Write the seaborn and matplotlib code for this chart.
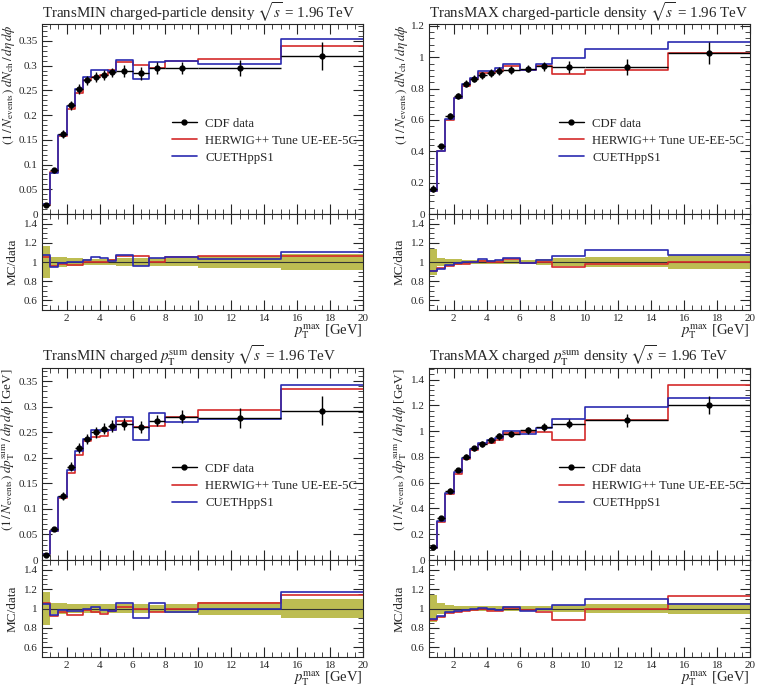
import numpy as np
import pandas as pd
import seaborn as sns
import matplotlib.pyplot as plt
from matplotlib.lines import Line2D
from matplotlib.ticker import MultipleLocator, AutoMinorLocator

# Bin edges in pT^max [GeV]
edges = [0.5, 1.0, 1.5, 2.0, 2.5, 3.0, 3.5, 4.0, 4.5, 5.0, 6.0, 7.0, 8.0, 10.0, 15.0, 20.0]

# TransMIN charged-particle density
min_nch_data = [0.018, 0.088, 0.1615, 0.220, 0.2535, 0.270, 0.277, 0.281, 0.286, 0.289, 0.284, 0.295, 0.295, 0.295, 0.320]
min_nch_err = [0.003, 0.0047, 0.0085, 0.009, 0.010, 0.0095, 0.0097, 0.0098, 0.010, 0.012, 0.013, 0.013, 0.013, 0.017, 0.028]
min_nch_herwig = [0.019, 0.084, 0.158, 0.212, 0.245, 0.270, 0.276, 0.280, 0.291, 0.308, 0.302, 0.295, 0.310, 0.314, 0.339]
min_nch_cueth = [0.0193, 0.083, 0.160, 0.219, 0.253, 0.277, 0.291, 0.292, 0.289, 0.311, 0.273, 0.307, 0.310, 0.303, 0.353]

# TransMAX charged-particle density
max_nch_data = [0.162, 0.432, 0.627, 0.754, 0.832, 0.863, 0.884, 0.899, 0.912, 0.918, 0.926, 0.941, 0.939, 0.937, 1.027]
max_nch_err = [0.022, 0.017, 0.019, 0.020, 0.021, 0.022, 0.022, 0.023, 0.023, 0.023, 0.023, 0.028, 0.038, 0.050, 0.073]
max_nch_herwig = [0.147, 0.404, 0.602, 0.739, 0.815, 0.863, 0.897, 0.899, 0.912, 0.946, 0.921, 0.941, 0.892, 0.918, 1.027]
max_nch_cueth = [0.146, 0.402, 0.608, 0.743, 0.828, 0.867, 0.911, 0.912, 0.930, 0.955, 0.921, 0.960, 0.995, 1.050, 1.100]

# TransMIN charged pTsum density
min_pt_data = [0.0105, 0.0613, 0.125, 0.1825, 0.219, 0.237, 0.2497, 0.2575, 0.263, 0.2666, 0.261, 0.273, 0.281, 0.2777, 0.2927]
min_pt_err = [0.0018, 0.0037, 0.0075, 0.009, 0.010, 0.0107, 0.011, 0.0115, 0.012, 0.012, 0.012, 0.011, 0.012, 0.019, 0.029]
min_pt_herwig = [0.0111, 0.0567, 0.1206, 0.1706, 0.2048, 0.2334, 0.241, 0.2433, 0.2551, 0.272, 0.261, 0.262, 0.281, 0.293, 0.334]
min_pt_cueth = [0.011, 0.057, 0.1225, 0.177, 0.2125, 0.237, 0.2547, 0.2524, 0.2551, 0.281, 0.235, 0.288, 0.271, 0.276, 0.3425]

# TransMAX charged pTsum density
max_pt_data = [0.103, 0.328, 0.537, 0.698, 0.801, 0.866, 0.902, 0.933, 0.959, 0.979, 1.005, 1.031, 1.059, 1.083, 1.204]
max_pt_err = [0.014, 0.017, 0.019, 0.0175, 0.020, 0.022, 0.023, 0.023, 0.024, 0.025, 0.025, 0.031, 0.037, 0.049, 0.072]
max_pt_herwig = [0.091, 0.298, 0.513, 0.670, 0.781, 0.853, 0.897, 0.905, 0.930, 0.984, 0.990, 0.990, 0.932, 1.083, 1.355]
max_pt_cueth = [0.092, 0.302, 0.518, 0.681, 0.789, 0.862, 0.907, 0.933, 0.949, 0.999, 0.975, 1.026, 1.095, 1.190, 1.256]

RED = '#d42a2a'
BLUE = '#2a2ab0'
BAND = '#bdbd52'

sns.set_style('ticks')
plt.rcParams['font.family'] = ['Liberation Serif', 'DejaVu Serif']
plt.rcParams['mathtext.fontset'] = 'stix'
plt.rcParams['axes.linewidth'] = 0.8

W, H = 757, 687
fig = plt.figure(figsize=(W / 100, H / 100), dpi=100)


def px_axes(left, right, top, bottom):
    return fig.add_axes([left / W, (H - bottom) / H, (right - left) / W, (bottom - top) / H])


def steps(ax, vals, color):
    df = pd.DataFrame({'x': edges, 'y': list(vals) + [vals[-1]]})
    sns.lineplot(data=df, x='x', y='y', ax=ax, color=color, lw=1.2,
                 drawstyle='steps-post', estimator=None, sort=False)


def style_ticks(ax):
    ax.tick_params(which='both', direction='in', top=True, right=True, labelsize=8, pad=3)
    ax.tick_params(which='major', length=7, width=0.8)
    ax.tick_params(which='minor', length=3.5, width=0.6)
    ax.xaxis.set_major_locator(MultipleLocator(2))
    ax.xaxis.set_minor_locator(MultipleLocator(0.5))
    ax.set_xlim(0.5, 20)


def draw_panel(left, right, top, mid, bottom, data, err, herwig, cueth, title, ylabel, ymax, ystep):
    ax = px_axes(left, right, top, mid)
    rax = px_axes(left, right, mid, bottom)

    data = np.array(data)
    err = np.array(err)
    e = np.array(edges)
    centers = (e[:-1] + e[1:]) / 2
    halfw = (e[1:] - e[:-1]) / 2

    steps(ax, herwig, RED)
    steps(ax, cueth, BLUE)
    ax.errorbar(centers, data, yerr=err, xerr=halfw, fmt='o', color='black',
                ms=3.5, lw=1, capsize=0, zorder=5)

    style_ticks(ax)
    ax.set_ylim(0, ymax)
    ax.yaxis.set_major_locator(MultipleLocator(ystep))
    ax.yaxis.set_minor_locator(AutoMinorLocator(5))
    ax.set_xticklabels([])
    ax.set_xlabel('')
    ax.set_ylabel(ylabel, fontsize=9.5, loc='top', labelpad=1)
    ax.set_title(title, loc='left', fontsize=10.8, pad=0)
    ax.yaxis.set_major_formatter(plt.FuncFormatter(lambda v, p: f'{v:g}'))

    handles = [
        Line2D([], [], color='black', marker='o', ms=3.5, lw=1),
        Line2D([], [], color=RED, lw=1.2),
        Line2D([], [], color=BLUE, lw=1.2),
    ]
    ax.legend(handles, ['CDF data', 'HERWIG++ Tune UE-EE-5C', 'CUETHppS1'],
              loc='center left', bbox_to_anchor=(0.37, 0.385), frameon=False,
              fontsize=9.2, handlelength=1.9, handletextpad=0.7, labelspacing=0.4)

    # ratio panel
    rel = err / data
    rax.stairs(1 + rel, edges, baseline=1 - rel, fill=True, color=BAND, lw=0)
    rax.axhline(1, color='#333333', lw=0.8)
    steps(rax, np.array(herwig) / data, RED)
    steps(rax, np.array(cueth) / data, BLUE)
    style_ticks(rax)
    rax.set_ylim(0.5, 1.5)
    rax.set_yticks([0.6, 0.8, 1.0, 1.2, 1.4])
    rax.yaxis.set_minor_locator(MultipleLocator(0.05))
    rax.yaxis.set_major_formatter(plt.FuncFormatter(lambda v, p: f'{v:g}'))
    rax.set_ylabel('MC/data', fontsize=9.5)
    rax.set_xlabel(r'$p_\mathrm{T}^\mathrm{max}$ [GeV]', fontsize=10.5, loc='right', labelpad=-1)


nch_label = r'$\left(1\,/\,N_\mathrm{events}\right)\; dN_\mathrm{ch}\,/\,d\eta\,d\phi$'
pt_label = r'$\left(1\,/\,N_\mathrm{events}\right)\; dp_\mathrm{T}^\mathrm{sum}\,/\,d\eta\,d\phi$ [GeV]'

draw_panel(42, 363, 24, 214, 310, min_nch_data, min_nch_err, min_nch_herwig, min_nch_cueth,
           r'TransMIN charged-particle density $\sqrt{s}$ = 1.96 TeV', nch_label, 0.384, 0.05)
draw_panel(429, 750, 24, 214, 310, max_nch_data, max_nch_err, max_nch_herwig, max_nch_cueth,
           r'TransMAX charged-particle density $\sqrt{s}$ = 1.96 TeV', nch_label, 1.212, 0.2)
draw_panel(42, 363, 368, 560, 657, min_pt_data, min_pt_err, min_pt_herwig, min_pt_cueth,
           r'TransMIN charged $p_\mathrm{T}^\mathrm{sum}$ density $\sqrt{s}$ = 1.96 TeV', pt_label, 0.376, 0.05)
draw_panel(429, 750, 368, 560, 657, max_pt_data, max_pt_err, max_pt_herwig, max_pt_cueth,
           r'TransMAX charged $p_\mathrm{T}^\mathrm{sum}$ density $\sqrt{s}$ = 1.96 TeV', pt_label, 1.49, 0.2)

fig.savefig('out.png', dpi=100)
